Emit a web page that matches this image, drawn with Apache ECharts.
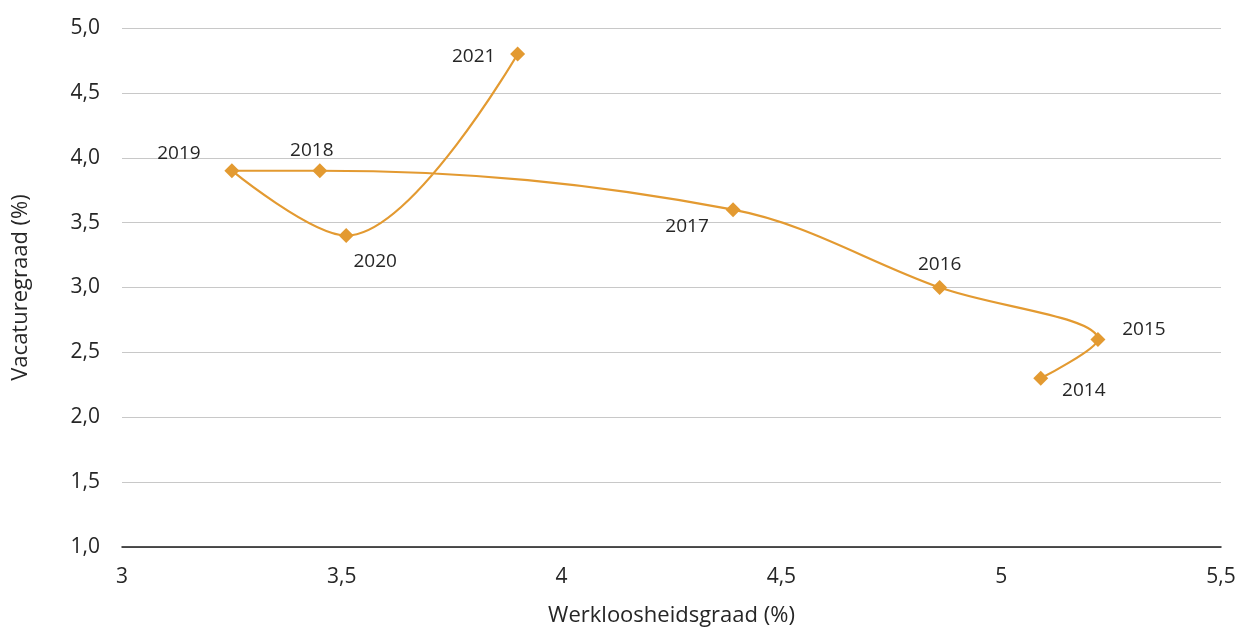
<!DOCTYPE html>
<html>
<head>
<meta charset="utf-8">
<script src="https://cdn.jsdelivr.net/npm/echarts@6/dist/echarts.min.js"></script>
<style>
html,body{margin:0;padding:0;background:#fff;}
#chart{width:1244px;height:628px;}
</style>
</head>
<body>
<div id="chart"></div>
<script>
var years = ['2014','2015','2016','2017','2018','2019','2020','2021'];
var unemployment = [5.09, 5.22, 4.86, 4.39, 3.45, 3.25, 3.51, 3.90];
var vacancy = [2.3, 2.6, 3.0, 3.6, 3.9, 3.9, 3.4, 4.8];
var xTicks = ['3','3,5','4','4,5','5','5,5'];
var yTicks = ['1,0','1,5','2,0','2,5','3,0','3,5','4,0','4,5','5,0'];

// label offsets (style only)
var labelOffsets = [[43,12],[46,-10],[0,-23],[-46,17],[-8,-20],[-53,-17],[29,26],[-44,3]];

var FONT = '"Open Sans", sans-serif';
var TXT = '#262626';

var data = years.map(function (y, i) {
  return {
    value: [unemployment[i], vacancy[i]],
    name: y,
    label: { offset: labelOffsets[i] }
  };
});

var chart = echarts.init(document.getElementById('chart'));
chart.setOption({
  animation: false,
  grid: { left: 122, right: 23, top: 28, bottom: 81, containLabel: false, outerBoundsMode: 'none' },
  xAxis: {
    type: 'value', min: 3, max: 5.5, interval: 0.5,
    name: 'Werkloosheidsgraad (%)', nameLocation: 'middle', nameGap: 58,
    nameTextStyle: { fontFamily: FONT, fontSize: 22, color: TXT },
    axisLine: { show: true, lineStyle: { color: '#1a1a1a', width: 1.5 } },
    axisTick: { show: false },
    splitLine: { show: false },
    axisLabel: { fontFamily: FONT, fontSize: 21, color: TXT, margin: 20,
      formatter: function (v) { return xTicks[Math.round((v - 3) / 0.5)]; } }
  },
  yAxis: {
    type: 'value', min: 1, max: 5, interval: 0.5,
    name: 'Vacaturegraad (%)', nameLocation: 'middle', nameGap: 90, nameRotate: 90,
    nameTextStyle: { fontFamily: FONT, fontSize: 22, color: TXT },
    axisLine: { show: false },
    axisTick: { show: false },
    splitLine: { show: true, lineStyle: { color: '#c8c8c8', width: 1.2 } },
    axisLabel: { fontFamily: FONT, fontSize: 21, color: TXT, margin: 22,
      formatter: function (v) { return yTicks[Math.round((v - 1) / 0.5)]; } }
  },
  series: [{
    type: 'line',
    data: data,
    smooth: 0.35,
    symbol: 'diamond',
    symbolSize: 15,
    lineStyle: { color: '#E39A31', width: 2.2 },
    itemStyle: { color: '#E39A31' },
    label: {
      show: true, position: 'inside', formatter: '{b}',
      fontFamily: FONT, fontSize: 19, color: TXT
    }
  }]
});
</script>
</body>
</html>
